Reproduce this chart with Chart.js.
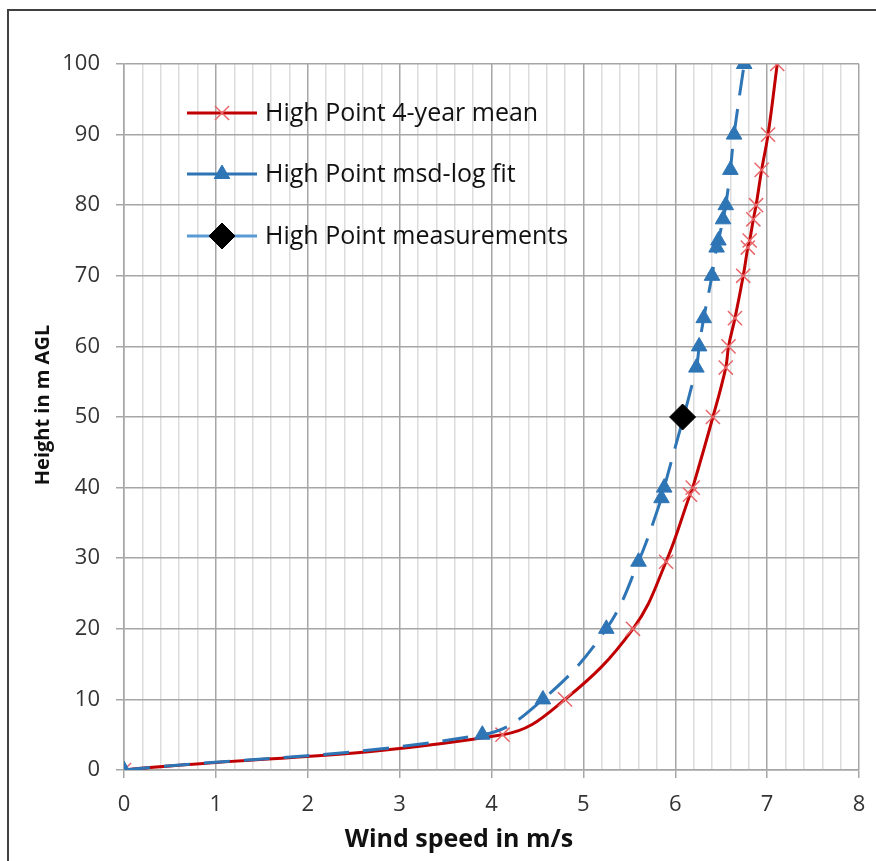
<!DOCTYPE html>
<html>
<head>
<meta charset="utf-8">
<script src="https://cdn.jsdelivr.net/npm/chart.js@4.4.1/dist/chart.umd.min.js"></script>
<style>
    html, body { margin: 0; padding: 0; background: #fff; overflow: hidden; }
    #wrap { position: relative; width: 876px; height: 861px; }
    #frame { position: absolute; left: 7px; top: 9px; width: 900px; height: 900px; border: 2px solid #404040; box-sizing: border-box; }
    canvas { position: absolute; left: 0; top: 0; }
</style>
</head>
<body>
<div id="wrap">
    <div id="frame"></div>
    <canvas id="chart" width="876" height="861"></canvas>
</div>
<script>
// wind speed (m/s) against height (m AGL)
const meanHeights = [0, 5, 10, 20, 29.5, 39, 40, 50, 57, 60, 64, 70, 74, 75, 78, 80, 85, 90, 100];
const meanSpeeds = [0, 4.12, 4.8, 5.54, 5.9, 6.16, 6.19, 6.41, 6.55, 6.58, 6.65, 6.74, 6.79, 6.81, 6.85, 6.88, 6.94, 7.01, 7.11];

const fitHeights = [0, 5, 10, 20, 29.5, 38.5, 40, 57, 60, 64, 70, 74, 75, 78, 80, 85, 90, 100];
const fitSpeeds = [0, 3.9, 4.56, 5.25, 5.6, 5.85, 5.88, 6.23, 6.26, 6.31, 6.4, 6.45, 6.47, 6.52, 6.55, 6.6, 6.64, 6.75];

const measuredHeights = [50];
const measuredSpeeds = [6.08];

const seriesNames = ['High Point 4-year mean', 'High Point msd-log fit', 'High Point measurements'];
const xTitle = 'Wind speed in m/s';
const yTitle = 'Height in m AGL';

const xMin = 0, xMax = 8, xMinorStep = 0.2;
const yMin = 0, yMax = 100, yStep = 10;

const FONT = '"Open Sans", "DejaVu Sans", sans-serif';
const MAJOR_GRID = '#a6a6a6';
const MINOR_GRID = '#dcdcdc';

function toPoints(xs, ys) {
    return xs.map((x, i) => ({ x: x, y: ys[i] }));
}

function isWhole(v) {
    return Math.abs(v - Math.round(v)) < 1e-6;
}

// legend inside the plot (top left) and the two axis titles, placed like the original
const decorations = {
    id: 'decorations',
    afterDraw(chart) {
        const ctx = chart.ctx;
        const rows = [113, 174, 236];
        const x0 = 187, x1 = 257, textX = 265;
        ctx.save();
        chart.data.datasets.forEach((ds, i) => {
            const y = rows[i];
            ctx.beginPath();
            ctx.setLineDash([]);
            ctx.lineWidth = ds.borderWidth;
            ctx.strokeStyle = ds.borderColor;
            ctx.moveTo(x0, y);
            ctx.lineTo(x1, y);
            ctx.stroke();

            ctx.fillStyle = ds.pointBackgroundColor;
            ctx.strokeStyle = ds.pointBorderColor;
            ctx.lineWidth = ds.pointBorderWidth;
            Chart.helpers.drawPoint(ctx, {
                pointStyle: ds.pointStyle,
                radius: ds.pointRadius,
                rotation: 0,
                borderWidth: ds.pointBorderWidth
            }, (x0 + x1) / 2, y);

            ctx.fillStyle = '#111';
            ctx.font = '25px ' + FONT;
            ctx.textBaseline = 'middle';
            ctx.textAlign = 'left';
            ctx.fillText(ds.label, textX, y + 1);
        });

        ctx.fillStyle = '#111';
        ctx.textAlign = 'center';
        ctx.textBaseline = 'middle';
        ctx.font = 'bold 25px ' + FONT;
        ctx.fillText(xTitle, 459, 840);

        ctx.translate(43, 405);
        ctx.rotate(-Math.PI / 2);
        ctx.font = 'bold 20px ' + FONT;
        ctx.fillText(yTitle, 0, 0);
        ctx.restore();
    }
};

const ctx = document.getElementById('chart').getContext('2d');
new Chart(ctx, {
    type: 'scatter',
    data: {
        datasets: [
            {
                label: seriesNames[0],
                data: toPoints(meanSpeeds, meanHeights),
                showLine: true,
                borderColor: '#c00000',
                borderWidth: 3,
                tension: 0.4,
                pointStyle: 'crossRot',
                pointRadius: 10,
                pointBorderColor: '#e8676a',
                pointBackgroundColor: '#e8676a',
                pointBorderWidth: 1.5,
                order: 3
            },
            {
                label: seriesNames[1],
                data: toPoints(fitSpeeds, fitHeights),
                showLine: true,
                borderColor: '#2e75b6',
                borderWidth: 3,
                borderDash: [26, 14],
                tension: 0.4,
                pointStyle: 'triangle',
                pointRadius: 9,
                pointBorderColor: '#2e75b6',
                pointBackgroundColor: '#2e75b6',
                pointBorderWidth: 1,
                order: 2
            },
            {
                label: seriesNames[2],
                data: toPoints(measuredSpeeds, measuredHeights),
                showLine: false,
                borderColor: '#5b9bd5',
                borderWidth: 3,
                pointStyle: 'rectRot',
                pointRadius: 13,
                pointBorderColor: '#000',
                pointBackgroundColor: '#000',
                pointBorderWidth: 1,
                order: 1
            }
        ]
    },
    options: {
        responsive: false,
        animation: false,
        layout: { padding: { top: 64, right: 17, left: 0, bottom: 0 } },
        plugins: {
            legend: { display: false },
            tooltip: { enabled: false }
        },
        scales: {
            x: {
                type: 'linear',
                min: xMin,
                max: xMax,
                afterFit(scale) {
                    scale.height = 91;
                    scale.paddingLeft = 0;
                    scale.paddingRight = 0;
                },
                ticks: {
                    stepSize: xMinorStep,
                    autoSkip: false,
                    maxRotation: 0,
                    padding: 14,
                    color: '#333',
                    font: { family: FONT, size: 22 },
                    callback: (v) => isWhole(v) ? String(Math.round(v)) : ''
                },
                grid: {
                    color: (c) => isWhole(c.tick.value) ? MAJOR_GRID : MINOR_GRID,
                    tickColor: (c) => isWhole(c.tick.value) ? MAJOR_GRID : 'rgba(0,0,0,0)',
                    tickLength: 8,
                    lineWidth: 1.5
                },
                border: { color: MAJOR_GRID, width: 1.5 }
            },
            y: {
                type: 'linear',
                min: yMin,
                max: yMax,
                afterFit(scale) { scale.width = 124; },
                ticks: {
                    stepSize: yStep,
                    padding: 16,
                    color: '#333',
                    font: { family: FONT, size: 22 }
                },
                grid: {
                    color: MAJOR_GRID,
                    tickColor: MAJOR_GRID,
                    tickLength: 8,
                    lineWidth: 1.5
                },
                border: { color: MAJOR_GRID, width: 1.5 }
            }
        }
    },
    plugins: [decorations]
});
</script>
</body>
</html>
